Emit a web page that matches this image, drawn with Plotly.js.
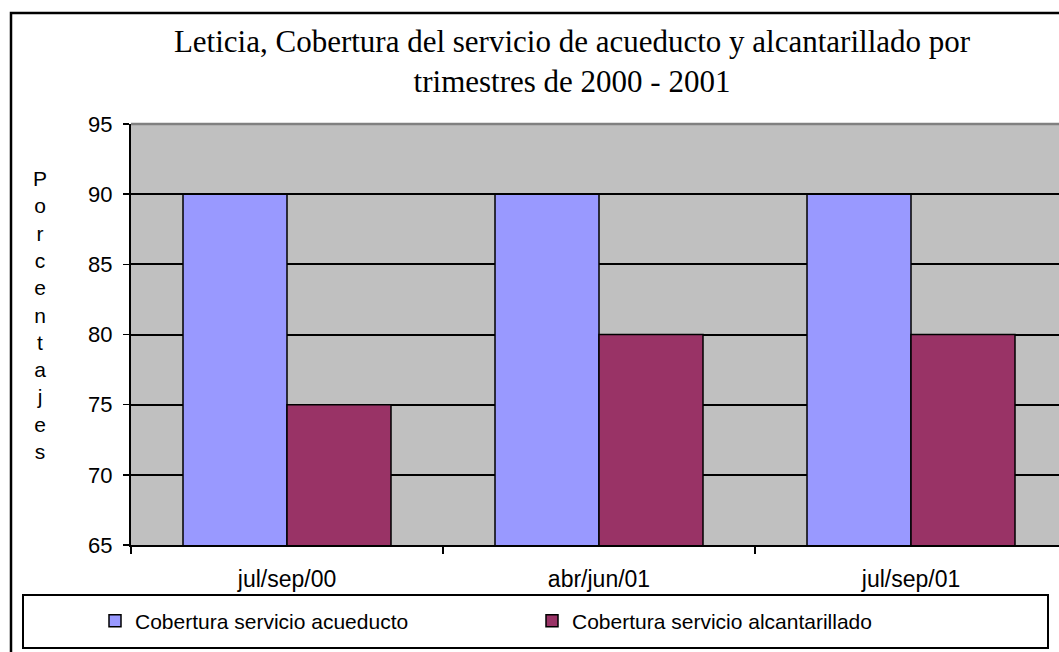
<!DOCTYPE html>
<html>
<head>
<meta charset="utf-8">
<script src="https://cdn.plot.ly/plotly-3.0.1.min.js"></script>
<style>html,body{margin:0;padding:0;background:#fff;}#chart{width:1059px;height:652px;}</style>
</head>
<body>
<div id="chart"></div>
<script>
var categories = ["jul/sep/00", "abr/jun/01", "jul/sep/01"];
var acueducto = [90, 90, 90];
var alcantarillado = [75, 80, 80];
var seriesNames = ["Cobertura servicio acueducto", "Cobertura servicio alcantarillado"];
var yTicks = [65, 70, 75, 80, 85, 90, 95];
var yLabelLetters = ["P","o","r","c","e","n","t","a","j","e","s"];

var W = 1059, H = 652;
var mL = 131, mR = 0, mT = 124, mB = 107;
var plotW = W - mL - mR, plotH = H - mT - mB;
var catPx = 312;
function px2x(p){ return (p - mL) / plotW; }
function px2y(p){ return (H - mB - p) / plotH; }

var traces = [
  {type: "bar", name: seriesNames[0], x: categories, y: acueducto,
   marker: {color: "#9999FF", line: {color: "#000000", width: 1.5}}},
  {type: "bar", name: seriesNames[1], x: categories, y: alcantarillado,
   marker: {color: "#993366", line: {color: "#000000", width: 1.5}}}
];

var layout = {
  width: W, height: H,
  margin: {l: mL, r: mR, t: mT, b: mB, pad: 0},
  paper_bgcolor: "#FFFFFF",
  plot_bgcolor: "#C0C0C0",
  barmode: "group",
  bargap: 1/3,
  bargroupgap: 0,
  showlegend: true,
  font: {family: "Arial, Liberation Sans, sans-serif", size: 21, color: "#000000"},
  title: {
    text: "Leticia, Cobertura del servicio de acueducto y alcantarillado por<br>trimestres de 2000 - 2001",
    font: {family: "Liberation Serif, Times New Roman, serif", size: 31, color: "#000000"},
    x: 572 / W, xref: "container", xanchor: "center",
    y: 1 - 52 / H, yref: "container", yanchor: "top"
  },
  xaxis: {
    type: "category",
    range: [-0.5, -0.5 + plotW / catPx],
    showline: true, linecolor: "#000000", linewidth: 2,
    ticks: "outside", tickson: "boundaries", ticklen: 7, tickwidth: 1.5, tickcolor: "#000000",
    showgrid: false, zeroline: false,
    ticklabelstandoff: 12,
    tickfont: {size: 23, family: "Arial, Liberation Sans, sans-serif"}
  },
  yaxis: {
    range: [65, 95], tickvals: yTicks,
    showline: true, linecolor: "#000000", linewidth: 2,
    ticks: "outside", ticklen: 6, tickwidth: 1.5, tickcolor: "#000000",
    showgrid: true, gridcolor: "#000000", gridwidth: 2,
    zeroline: false,
    ticklabelstandoff: 6,
    tickfont: {size: 22, family: "Arial, Liberation Sans, sans-serif"}
  },
  legend: {
    orientation: "h",
    x: px2x(95), xanchor: "left",
    y: px2y(621), yanchor: "middle",
    bgcolor: "rgba(0,0,0,0)", borderwidth: 0,
    entrywidth: 392, entrywidthmode: "pixels",
    font: {size: 21, family: "Arial, Liberation Sans, sans-serif"},
    traceorder: "normal"
  },
  shapes: [
    {type: "rect", xref: "paper", yref: "paper",
     x0: px2x(11), x1: px2x(1075), y0: px2y(670), y1: px2y(13),
     line: {color: "#000000", width: 2.5}, fillcolor: "rgba(0,0,0,0)", layer: "above"},
    {type: "rect", xref: "paper", yref: "paper",
     x0: px2x(23), x1: px2x(1048), y0: px2y(648), y1: px2y(595),
     line: {color: "#000000", width: 2}, fillcolor: "rgba(0,0,0,0)", layer: "above"},
    {type: "line", xref: "paper", yref: "paper",
     x0: 0, x1: 1, y0: 1, y1: 1,
     line: {color: "#808080", width: 2.5}, layer: "above"}
  ],
  annotations: [
    {xref: "paper", yref: "paper", x: px2x(40), y: px2y(315),
     xanchor: "center", yanchor: "middle", showarrow: false,
     text: yLabelLetters.join("<br>"),
     font: {size: 21, family: "Arial, Liberation Sans, sans-serif", color: "#000000"}}
  ]
};

Plotly.newPlot("chart", traces, layout, {displayModeBar: false, staticPlot: true});
</script>
</body>
</html>
